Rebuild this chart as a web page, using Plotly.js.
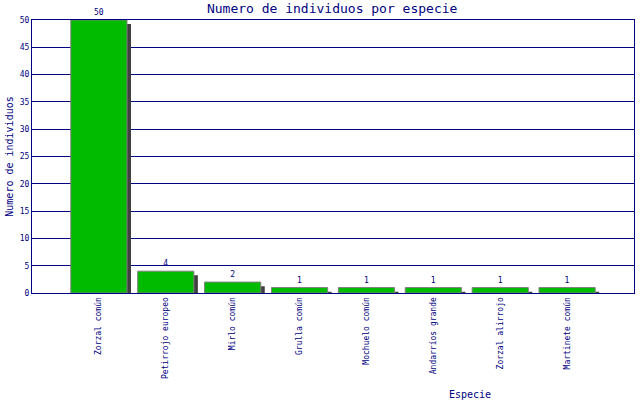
<!DOCTYPE html>
<html>
<head>
<meta charset="utf-8">
<script src="https://cdn.plot.ly/plotly-3.0.1.min.js"></script>
<style>
  html, body { margin: 0; padding: 0; background: #fff; }
  #chart { width: 640px; height: 400px; }
</style>
</head>
<body>
<div id="chart"></div>
<script>
// species counted and how many individuals of each
const especies = [
    "Zorzal común",
    "Petirrojo europeo",
    "Mirlo común",
    "Grulla común",
    "Mochuelo común",
    "Andarríos grande",
    "Zorzal alirrojo",
    "Martinete común"
];
const individuos = [50, 4, 2, 1, 1, 1, 1, 1];
const yTicks = [0, 5, 10, 15, 20, 25, 30, 35, 40, 45, 50];

const NAVY = "#000080";
const FONT = "DejaVu Sans Mono, Liberation Mono, monospace";
const BAR_W = 0.84;

// drop shadow: same bars, nudged right and down a few pixels
const shadow = {
    type: "bar",
    x: especies,
    y: individuos,
    base: -0.75,
    width: BAR_W,
    offset: -BAR_W / 2 + 0.06,
    marker: { color: "#404040", line: { width: 0 } },
    hoverinfo: "skip",
    cliponaxis: true
};

const bars = {
    type: "bar",
    x: especies,
    y: individuos,
    width: BAR_W,
    text: individuos.map(String),
    textposition: "outside",
    textfont: { family: FONT, size: 8, color: NAVY },
    marker: { color: "#00bb00", line: { color: "#808080", width: 1 } },
    cliponaxis: false
};

const layout = {
    width: 640,
    height: 400,
    margin: { l: 32, r: 6, t: 20, b: 107 },
    paper_bgcolor: "#fff",
    plot_bgcolor: "#fff",
    barmode: "overlay",
    showlegend: false,
    font: { family: FONT, color: NAVY },
    title: {
        text: "Numero de individuos por especie",
        font: { family: FONT, size: 13, color: NAVY },
        xref: "container",
        x: 0.519,
        xanchor: "center",
        yref: "container",
        y: 0.978,
        yanchor: "middle"
    },
    xaxis: {
        type: "category",
        range: [-1, 8],
        tickangle: -90,
        tickfont: { family: FONT, size: 8, color: NAVY },
        showgrid: false,
        showline: true,
        linecolor: NAVY,
        linewidth: 1,
        mirror: true,
        ticks: "",
        fixedrange: true
    },
    yaxis: {
        range: [0, 50],
        tickvals: yTicks,
        tickfont: { family: FONT, size: 8, color: NAVY },
        showgrid: true,
        gridcolor: NAVY,
        gridwidth: 1,
        zeroline: false,
        showline: true,
        linecolor: NAVY,
        linewidth: 1,
        mirror: true,
        ticks: "",
        title: {
            text: "Numero de individuos",
            font: { family: FONT, size: 10, color: NAVY },
            standoff: 4
        },
        fixedrange: true
    },
    annotations: [{
        text: "Especie",
        xref: "paper",
        yref: "paper",
        x: 0.728,
        y: -0.37,
        xanchor: "center",
        yanchor: "middle",
        showarrow: false,
        font: { family: FONT, size: 10, color: NAVY }
    }]
};

Plotly.newPlot("chart", [shadow, bars], layout, { displayModeBar: false, staticPlot: true });
</script>
</body>
</html>
